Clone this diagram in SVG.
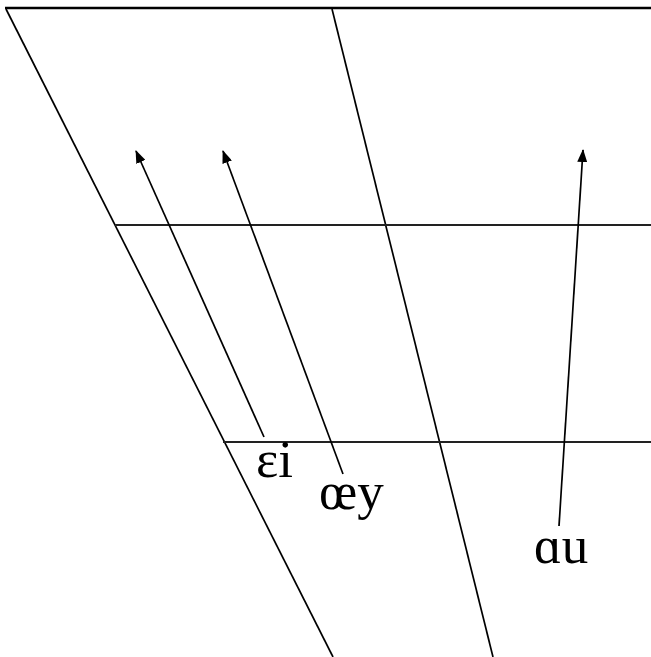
<svg xmlns="http://www.w3.org/2000/svg" width="651" height="657" viewBox="0 0 651 657">
<defs>
<style>
.ln{stroke:#000;stroke-width:1.7;fill:none}
.hz{stroke:#222;stroke-width:2.2;fill:none}
.ar{stroke:#000;stroke-width:1.7;fill:none;marker-end:url(#ah)}
.lb{font-family:"Liberation Serif","DejaVu Serif",serif;font-size:53px;fill:#000}
</style>
<marker id="ah" viewBox="0 0 13 10" refX="12" refY="5" markerWidth="13" markerHeight="10" markerUnits="userSpaceOnUse" orient="auto">
<path d="M0,0 L13,5 L0,10 Z" fill="#000"/>
</marker>
</defs>
<rect width="651" height="657" fill="#fff"/>
<g id="chart">
<line x1="5" y1="8" x2="651" y2="8" stroke="#000" stroke-width="2.6"/>
<line class="ln" x1="6" y1="9" x2="333" y2="657"/>
<line class="ln" x1="332" y1="9" x2="493" y2="657"/>
<line class="hz" x1="115" y1="225" x2="651" y2="225"/>
<line class="hz" x1="223" y1="442" x2="651" y2="442"/>
</g>
<g id="connectors">
<line class="ar" x1="264" y1="437" x2="136" y2="151"/>
<line class="ar" x1="343" y1="474" x2="223" y2="151"/>
<line class="ar" x1="559" y1="526" x2="583" y2="150"/>
</g>
<g id="node-ei"><text class="lb" x="256" y="477">ɛi</text></g>
<g id="node-oey"><text class="lb" x="319" y="509">œy</text></g>
<g id="node-au"><text class="lb" x="534" y="563">ɑu</text></g>
</svg>
